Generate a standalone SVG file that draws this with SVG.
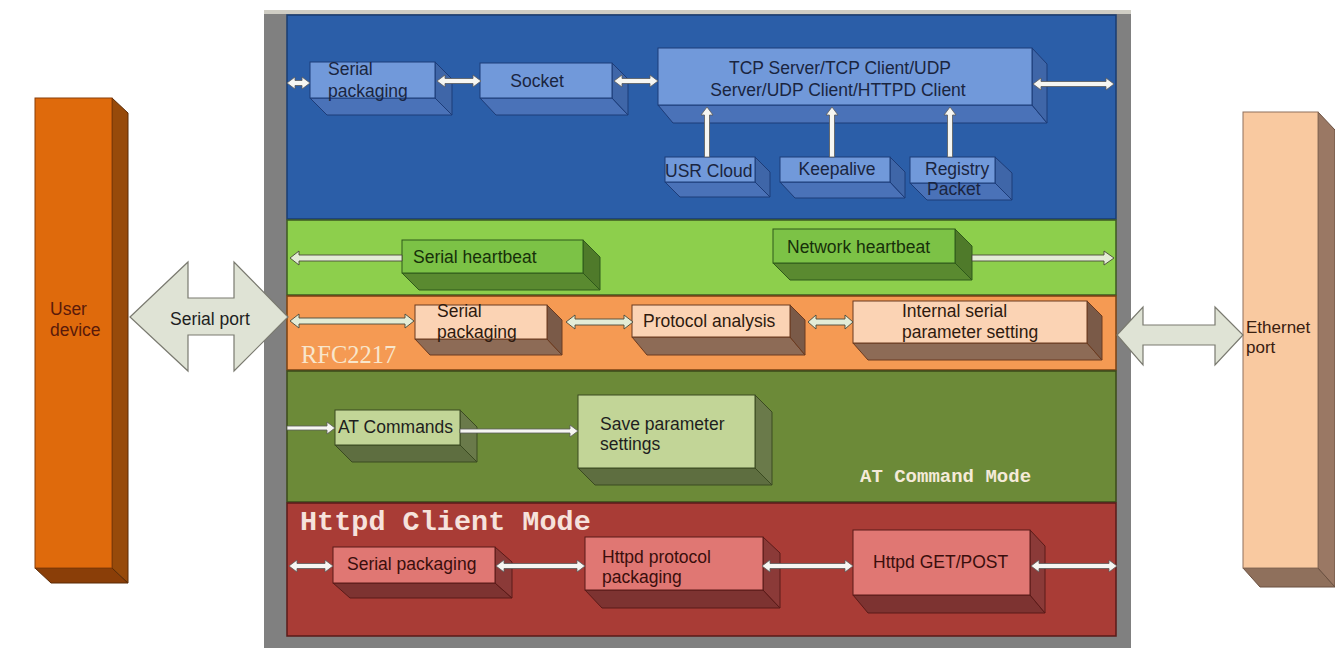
<svg xmlns="http://www.w3.org/2000/svg" width="1335" height="648" viewBox="0 0 1335 648">
  <style>
    text { font-family: "Liberation Sans", Arial, sans-serif; font-size: 17.5px; fill: #1e1e1e; }
    .mono { font-family: "Liberation Mono", "DejaVu Sans Mono", monospace; fill: #f4ead8; }
    .band { stroke-width: 1.5; }
    .arrW { fill: #f6f6f2; stroke: #5a5a5a; stroke-width: 0.8; }
    .arrL { fill: #e3ecd6; stroke: #4a4a3a; stroke-width: 0.9; }
    .big { fill: #dfe3d5; stroke: #7a7a70; stroke-width: 1.2; }
    /* box faces */
    .bF { fill: #7199da; stroke: #1d3c78; stroke-width: 1; }
    .bB { fill: #4a72b8; stroke: #1d3c78; stroke-width: 1; }
    .bS { fill: #3f66a8; stroke: #1d3c78; stroke-width: 1; }
    .gF { fill: #7cc246; stroke: #2f5a1a; stroke-width: 1; }
    .gB { fill: #5a8a30; stroke: #2f5a1a; stroke-width: 1; }
    .gS { fill: #4f7a2a; stroke: #2f5a1a; stroke-width: 1; }
    .oF { fill: #fbd3b4; stroke: #6a3a20; stroke-width: 1; }
    .oB { fill: #8d6b56; stroke: #6a3a20; stroke-width: 1; }
    .oS { fill: #7a5a48; stroke: #6a3a20; stroke-width: 1; }
    .lF { fill: #c2d597; stroke: #3a4a20; stroke-width: 1; }
    .lB { fill: #5e6e40; stroke: #3a4a20; stroke-width: 1; }
    .lS { fill: #6a7a4a; stroke: #3a4a20; stroke-width: 1; }
    .rF { fill: #e07773; stroke: #5a1a18; stroke-width: 1; }
    .rB { fill: #7d3331; stroke: #5a1a18; stroke-width: 1; }
    .rS { fill: #8b3a38; stroke: #5a1a18; stroke-width: 1; }
    .tb { fill: #1a2540; }
    .tg { fill: #17300a; }
    .to { fill: #2e1a0e; }
    .tr { fill: #3a0e0c; }
  </style>

  <rect x="0" y="0" width="1335" height="648" fill="#ffffff"/>

  <!-- user device column -->
  <g id="user-device">
    <polygon points="35,568 112,568 128,583 51,583" fill="#8a3e08" stroke="#5a2a05"/>
    <polygon points="112,98 128,113 128,583 112,568" fill="#974a0a" stroke="#5a2a05"/>
    <rect x="35" y="98" width="77" height="470" fill="#df6a0c" stroke="#8a3e08"/>
    <text x="50" y="315" style="fill:#5a1a0a">User</text>
    <text x="50" y="336" style="fill:#5a1a0a">device</text>
  </g>

  <!-- ethernet port column -->
  <g id="ethernet-port">
    <polygon points="1243,568 1318,568 1335,587 1260,587" fill="#8f705c" stroke="#6a5040"/>
    <polygon points="1318,112 1335,130 1335,587 1318,568" fill="#9a7864" stroke="#6a5040"/>
    <rect x="1243" y="112" width="75" height="456" fill="#f9c9a0" stroke="#8f705c"/>
    <text x="1246" y="333" style="fill:#3a2010;font-size:17px">Ethernet</text>
    <text x="1246" y="353" style="fill:#3a2010;font-size:17px">port</text>
  </g>

  <!-- module frame -->
  <g id="frame">
    <rect x="264" y="10" width="867" height="645" fill="#808080"/>
    <rect x="264" y="10" width="867" height="4" fill="#cfcdc4"/>
  </g>

  <!-- layer bands -->
  <g id="bands">
    <rect class="band" x="287" y="15" width="829" height="204" fill="#2b5ea8" stroke="#1a3c70"/>
    <rect class="band" x="287" y="220" width="829" height="75" fill="#8dcf4c" stroke="#3c5a20"/>
    <rect class="band" x="287" y="296" width="829" height="74" fill="#f59a53" stroke="#7a4010"/>
    <rect class="band" x="287" y="371" width="829" height="131" fill="#6c8a38" stroke="#3a4a18"/>
    <rect class="band" x="287" y="503" width="829" height="133" fill="#a93c36" stroke="#5a1a18"/>
    <text x="301" y="363" style="font-family:'Liberation Serif',serif;font-size:24.5px;fill:#f8e6cc">RFC2217</text>
    <text class="mono" x="860" y="482" style="font-size:19px;font-weight:bold">AT Command Mode</text>
    <text class="mono" x="300" y="530" style="font-size:28.5px;font-weight:bold;fill:#f6e2dc">Httpd Client Mode</text>
  </g>

  <!-- blue layer: socket transport -->
  <g id="blue-serial-packaging">
    <polygon class="bB" points="310,98 435,98 452,115 327,115"/>
    <polygon class="bS" points="435,62 452,79 452,115 435,98"/>
    <rect class="bF" x="310" y="62" width="125" height="36"/>
    <text class="tb" x="328" y="75">Serial</text>
    <text class="tb" x="328" y="97">packaging</text>
  </g>
  <g id="socket">
    <polygon class="bB" points="480,98 612,98 628,115 496,115"/>
    <polygon class="bS" points="612,63 628,79 628,115 612,98"/>
    <rect class="bF" x="480" y="63" width="132" height="35"/>
    <text class="tb" x="537" y="87" text-anchor="middle">Socket</text>
  </g>
  <g id="tcp-udp">
    <polygon class="bB" points="658,105 1032,105 1047,123 673,123"/>
    <polygon class="bS" points="1032,48 1047,64 1047,123 1032,105"/>
    <rect class="bF" x="658" y="48" width="374" height="57"/>
    <text class="tb" x="840" y="74" text-anchor="middle">TCP Server/TCP Client/UDP</text>
    <text class="tb" x="838" y="96" text-anchor="middle">Server/UDP Client/HTTPD Client</text>
  </g>
  <g id="usr-cloud">
    <polygon class="bB" points="665,182 755,182 770,197 680,197"/>
    <polygon class="bS" points="755,157 770,172 770,197 755,182"/>
    <rect class="bF" x="665" y="157" width="90" height="25"/>
    <text class="tb" x="665" y="177">USR Cloud</text>
  </g>
  <g id="keepalive">
    <polygon class="bB" points="780,182 890,182 905,198 795,198"/>
    <polygon class="bS" points="890,157 905,172 905,198 890,182"/>
    <rect class="bF" x="780" y="157" width="110" height="25"/>
    <text class="tb" x="837" y="175" text-anchor="middle">Keepalive</text>
  </g>
  <g id="registry-packet">
    <polygon class="bB" points="910,183 995,183 1012,200 927,200"/>
    <polygon class="bS" points="995,157 1012,173 1012,200 995,183"/>
    <rect class="bF" x="910" y="157" width="85" height="26"/>
    <text class="tb" x="925" y="175">Registry</text>
    <text class="tb" x="927" y="195">Packet</text>
  </g>

  <!-- green layer: heartbeats -->
  <g id="serial-heartbeat">
    <polygon class="gB" points="402,273 583,273 600,290 419,290"/>
    <polygon class="gS" points="583,240 600,257 600,290 583,273"/>
    <rect class="gF" x="402" y="240" width="181" height="33"/>
    <text class="tg" x="413" y="263">Serial heartbeat</text>
  </g>
  <g id="network-heartbeat">
    <polygon class="gB" points="773,263 955,263 972,280 790,280"/>
    <polygon class="gS" points="955,229 972,246 972,280 955,263"/>
    <rect class="gF" x="773" y="229" width="182" height="34"/>
    <text class="tg" x="787" y="253">Network heartbeat</text>
  </g>

  <!-- orange layer: RFC2217 -->
  <g id="rfc-serial-packaging">
    <polygon class="oB" points="415,339 547,339 562,355 430,355"/>
    <polygon class="oS" points="547,305 562,320 562,355 547,339"/>
    <rect class="oF" x="415" y="305" width="132" height="34"/>
    <text class="to" x="437" y="317">Serial</text>
    <text class="to" x="437" y="338">packaging</text>
  </g>
  <g id="protocol-analysis">
    <polygon class="oB" points="632,337 790,337 805,355 647,355"/>
    <polygon class="oS" points="790,305 805,320 805,355 790,337"/>
    <rect class="oF" x="632" y="305" width="158" height="32"/>
    <text class="to" x="643" y="327">Protocol analysis</text>
  </g>
  <g id="internal-serial-setting">
    <polygon class="oB" points="853,343 1087,343 1102,360 868,360"/>
    <polygon class="oS" points="1087,301 1102,316 1102,360 1087,343"/>
    <rect class="oF" x="853" y="301" width="234" height="42"/>
    <text class="to" x="902" y="317">Internal serial</text>
    <text class="to" x="902" y="338">parameter setting</text>
  </g>

  <!-- olive layer: AT commands -->
  <g id="at-commands">
    <polygon class="lB" points="335,445 460,445 477,462 352,462"/>
    <polygon class="lS" points="460,410 477,427 477,462 460,445"/>
    <rect class="lF" x="335" y="410" width="125" height="35"/>
    <text x="338" y="433">AT Commands</text>
  </g>
  <g id="save-parameter-settings">
    <polygon class="lB" points="578,468 755,468 772,485 595,485"/>
    <polygon class="lS" points="755,395 772,412 772,485 755,468"/>
    <rect class="lF" x="578" y="395" width="177" height="73"/>
    <text x="600" y="430">Save parameter</text>
    <text x="600" y="450">settings</text>
  </g>

  <!-- red layer: httpd client -->
  <g id="httpd-serial-packaging">
    <polygon class="rB" points="333,583 495,583 512,598 350,598"/>
    <polygon class="rS" points="495,547 512,562 512,598 495,583"/>
    <rect class="rF" x="333" y="547" width="162" height="36"/>
    <text class="tr" x="347" y="570">Serial packaging</text>
  </g>
  <g id="httpd-protocol-packaging">
    <polygon class="rB" points="585,590 763,590 780,608 602,608"/>
    <polygon class="rS" points="763,537 780,553 780,608 763,590"/>
    <rect class="rF" x="585" y="537" width="178" height="53"/>
    <text class="tr" x="602" y="563">Httpd protocol</text>
    <text class="tr" x="602" y="583">packaging</text>
  </g>
  <g id="httpd-get-post">
    <polygon class="rB" points="853,595 1030,595 1045,613 868,613"/>
    <polygon class="rS" points="1030,530 1045,546 1045,613 1030,595"/>
    <rect class="rF" x="853" y="530" width="177" height="65"/>
    <text class="tr" x="873" y="568">Httpd GET/POST</text>
  </g>

  <!-- connectors -->
  <g id="connectors">
    <polygon class="big" points="130,317 188,262 188,298 234,298 234,262 288,317 234,371 234,335 188,335 188,371"/>
    <text x="170" y="325">Serial port</text>
    <polygon class="big" points="1117,335 1143,307 1143,325 1215,325 1215,307 1243,335 1215,365 1215,345 1143,345 1143,365"/>

    <polygon class="arrW" points="287,83 295,77 295,80.5 302,80.5 302,77 310,83 302,89 302,85.5 295,85.5 295,89"/>
    <polygon class="arrW" points="437,81 445,75 445,78.5 473,78.5 473,75 481,81 473,87 473,83.5 445,83.5 445,87"/>
    <polygon class="arrW" points="614,81 622,75 622,78.5 650,78.5 650,75 658,81 650,87 650,83.5 622,83.5 622,87"/>
    <polygon class="arrW" points="1033,84 1041,78 1041,81.5 1106,81.5 1106,78 1114,84 1106,90 1106,86.5 1041,86.5 1041,90"/>
    <polygon class="arrW" points="707,107 701,115 704.5,115 704.5,157 709.5,157 709.5,115 713,115"/>
    <polygon class="arrW" points="832,107 826,115 829.5,115 829.5,157 834.5,157 834.5,115 838,115"/>
    <polygon class="arrW" points="950,107 944,115 947.5,115 947.5,157 952.5,157 952.5,115 956,115"/>

    <polygon class="arrL" points="290,258 299,251 299,255 402,255 402,261 299,261 299,265"/>
    <polygon class="arrL" points="972,255 1104,255 1104,251 1114,258 1104,265 1104,261 972,261"/>

    <polygon class="arrL" points="290,321 299,314 299,318 405,318 405,314 414,321 405,328 405,324 299,324 299,328"/>
    <polygon class="arrL" points="566,322 575,315 575,319 624,319 624,315 633,322 624,329 624,325 575,325 575,329"/>
    <polygon class="arrL" points="808,322 816,315 816,319 845,319 845,315 853,322 845,329 845,325 816,325 816,329"/>

    <polygon class="arrW" points="287,426 327,426 327,422 335,428 327,434 327,430 287,430"/>
    <polygon class="arrW" points="460,429 570,429 570,425 578,431 570,437 570,433 460,433"/>

    <polygon class="arrW" points="289,566 297,560 297,563.5 325,563.5 325,560 333,566 325,572 325,568.5 297,568.5 297,572"/>
    <polygon class="arrW" points="496,566 504,560 504,563.5 577,563.5 577,560 585,566 577,572 577,568.5 504,568.5 504,572"/>
    <polygon class="arrW" points="762,566 770,560 770,563.5 845,563.5 845,560 853,566 845,572 845,568.5 770,568.5 770,572"/>
    <polygon class="arrW" points="1031,566 1039,560 1039,563.5 1109,563.5 1109,560 1117,566 1109,572 1109,568.5 1039,568.5 1039,572"/>
  </g>
</svg>
